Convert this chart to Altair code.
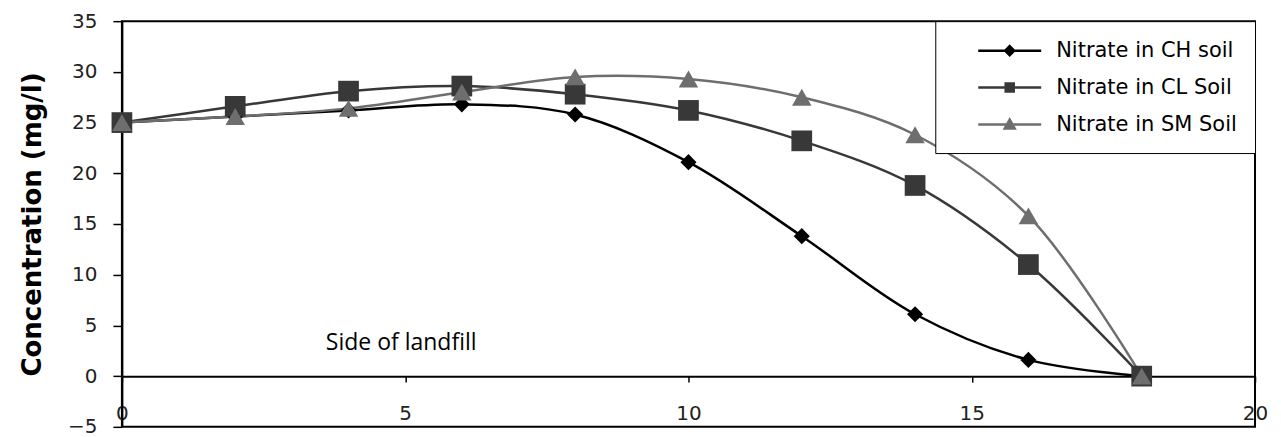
import altair as alt
import pandas as pd

# ---- data ----
distance = [0, 2, 4, 6, 8, 10, 12, 14, 16, 18]
ch_soil = [25.0, 25.6, 26.2, 26.8, 25.8, 21.1, 13.8, 6.1, 1.6, 0.0]
cl_soil = [25.0, 26.6, 28.1, 28.6, 27.8, 26.2, 23.2, 18.8, 11.0, 0.0]
sm_soil = [25.0, 25.6, 26.4, 28.0, 29.5, 29.3, 27.5, 23.8, 15.8, 0.0]

series = ["Nitrate in CH soil", "Nitrate in CL Soil", "Nitrate in SM Soil"]
colors = ["#000000", "#383838", "#6e6e6e"]
shapes = ["diamond", "square", "triangle-up"]
marker_sizes = [260, 430, 380]
# legend symbols: a line with a small (stroke-filled) marker in the middle
legend_paths = [
    "M-3.15,0H3.15M0,-0.45L0.45,0L0,0.45L-0.45,0ZM0,-0.22L0.22,0L0,0.22L-0.22,0Z",
    "M-3.15,0H3.15M-0.4,-0.4H0.4V0.4H-0.4ZM-0.2,-0.2H0.2V0.2H-0.2Z",
    "M-3.15,0H3.15M0,-0.5L0.5,0.4H-0.5ZM0,-0.2L0.22,0.22H-0.22Z",
]
x_ticks = [0, 5, 10, 15, 20]
y_ticks = [-5, 0, 5, 10, 15, 20, 25, 30, 35]

note_text = ["Side of landfill"]
note_x = [3.6]
note_y = [3.3]

rows = []
for name, vals in zip(series, [ch_soil, cl_soil, sm_soil]):
    for d, v in zip(distance, vals):
        rows.append({"x": d, "y": v, "series": name})
df = pd.DataFrame(rows)
note_df = pd.DataFrame({"x": note_x, "y": note_y, "t": note_text})

FONT = "DejaVu Sans"


def make_legend():
    return alt.Legend(
        title=None,
        orient="top-right",
        offset=0,
        padding=18,
        fillColor="white",
        strokeColor="#000000",
        labelFont=FONT,
        labelFontSize=21,
        labelColor="#000000",
        labelLimit=400,
        labelOffset=35,
        rowPadding=15,
        symbolSize=400,
        symbolOffset=45,
        symbolStrokeWidth=2.5,
        symbolOpacity=1,
    )


def color_enc():
    return alt.Color(
        "series:N",
        scale=alt.Scale(domain=series, range=colors),
        sort=series,
        legend=make_legend(),
    )


x_enc = alt.X(
    "x:Q",
    scale=alt.Scale(domain=[0, 20], nice=False),
    axis=alt.Axis(
        values=x_ticks,
        orient="bottom",
        offset=-50.75,
        title=None,
        grid=False,
        format="d",
        domainColor="#000000",
        domainWidth=2,
        tickColor="#000000",
        tickSize=6,
        tickWidth=1.5,
        labelFont=FONT,
        labelFontSize=20,
        labelColor="#222222",
        labelPadding=21,
        labelFlush=False,
        labelOverlap=False,
    ),
)

y_enc = alt.Y(
    "y:Q",
    scale=alt.Scale(domain=[-5, 35], nice=False),
    axis=alt.Axis(
        values=y_ticks,
        title="Concentration (mg/l)",
        titleFont=FONT,
        titleFontWeight="bold",
        titleFontSize=26,
        titleColor="#000000",
        titleAngle=270,
        titleX=-89,
        titleY=203,
        titleAlign="center",
        titleBaseline="middle",
        grid=False,
        format="d",
        domainColor="#000000",
        domainWidth=2,
        tickColor="#000000",
        tickSize=9,
        tickWidth=1.5,
        labelFont=FONT,
        labelFontSize=20,
        labelColor="#222222",
        labelPadding=16,
        labelFlush=False,
        labelOverlap=False,
    ),
)

base = alt.Chart(df)

lines = base.mark_line(interpolate="catmull-rom", strokeWidth=2.5).encode(
    x=x_enc, y=y_enc, color=color_enc()
)

point_layers = []
for name, col, shp, sz in zip(series, colors, shapes, marker_sizes):
    point_layers.append(
        base.transform_filter(alt.datum.series == name)
        .mark_point(filled=True, opacity=1, shape=shp, size=sz, color=col)
        .encode(x=x_enc, y=y_enc)
    )

legend_layer = (
    base.transform_filter("false")
    .mark_point(filled=False, opacity=1, strokeWidth=2.5)
    .encode(
        x=x_enc,
        y=y_enc,
        color=color_enc(),
        shape=alt.Shape(
            "series:N",
            scale=alt.Scale(domain=series, range=legend_paths),
            sort=series,
            legend=make_legend(),
        ),
    )
)

note = alt.Chart(note_df).mark_text(
    align="left", baseline="middle", font="Open Sans", fontSize=23, color="#000000"
).encode(x=alt.X("x:Q"), y=alt.Y("y:Q"), text="t:N")

chart = (
    alt.layer(lines, *point_layers, legend_layer, note)
    .properties(
        width=1134,
        height=406,
        autosize=alt.AutoSizeParams(type="none"),
        padding={"left": 114, "top": 13, "right": 18, "bottom": 10},
        background="white",
    )
    .configure_view(stroke="#000000", strokeWidth=2)
)

chart.save("out.html", embed_options={"renderer": "svg", "actions": False})
